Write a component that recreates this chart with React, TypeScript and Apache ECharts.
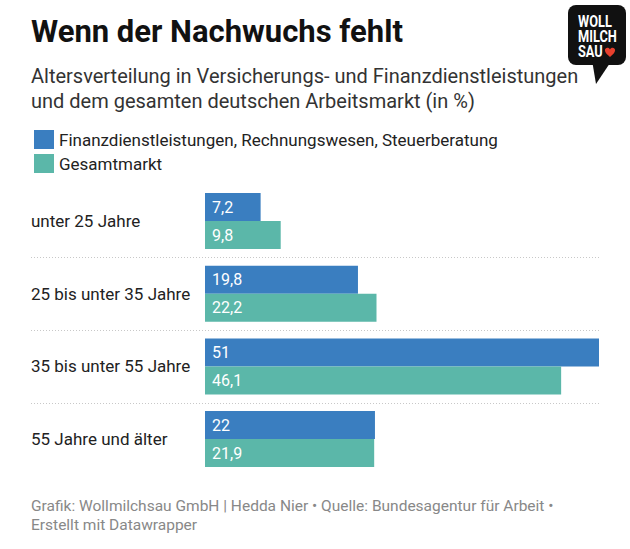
import React, { useEffect, useRef } from "react";
import * as echarts from "echarts";

const categories = ["unter 25 Jahre", "25 bis unter 35 Jahre", "35 bis unter 55 Jahre", "55 Jahre und älter"];
const seriesNames = ["Finanzdienstleistungen, Rechnungswesen, Steuerberatung", "Gesamtmarkt"];
const finanzValues = [7.2, 19.8, 51, 22];
const gesamtValues = [9.8, 22.2, 46.1, 21.9];
const colors = ["#3a7ec0", "#5bb7a9"];

const HEART =
  "M0,-3 C-1,-6 -6,-6 -6,-2 C-6,1 -3,3 0,6 C3,3 6,1 6,-2 C6,-6 1,-6 0,-3 Z";

export default function App() {
  const ref = useRef<HTMLDivElement>(null);
  useEffect(() => {
    if (!ref.current) return;
    echarts.graphic.registerShape("heart", echarts.graphic.extendPath(HEART, {}));
    const chart = echarts.init(ref.current, null, { renderer: "svg" });
    const font = "Roboto, 'Noto Sans', sans-serif";
    const fmt = (p: any) => String(p.value).replace(".", ",");
    const logoFont = "bold 16px Roboto, 'DejaVu Sans'";
    const logo = {
      type: "group",
      children: [
        { type: "rect", shape: { x: 568, y: 5, width: 58, height: 60, r: 8 }, style: { fill: "#111" } },
        { type: "polygon", shape: { points: [[592, 60], [612, 60], [596, 84]] }, style: { fill: "#111" } },
        { type: "text", x: 578, y: 22, scaleX: 0.8, style: { text: "WOLL", fill: "#fff", font: logoFont, verticalAlign: "middle" } },
        { type: "text", x: 578, y: 37, scaleX: 0.8, style: { text: "MILCH", fill: "#fff", font: logoFont, verticalAlign: "middle" } },
        { type: "text", x: 578, y: 52, scaleX: 0.8, style: { text: "SAU", fill: "#fff", font: logoFont, verticalAlign: "middle" } },
        { type: "heart", x: 610, y: 52, scaleX: 0.85, scaleY: 0.85, style: { fill: "#e8402d" } },
      ],
    };
    const baseGraphic: any[] = [
      { type: "text", x: 31, y: 16, style: { text: "Wenn der Nachwuchs fehlt", fill: "#111", font: `bold 31px ${font}` } },
      { type: "text", x: 31, y: 66, style: { text: "Altersverteilung in Versicherungs- und Finanzdienstleistungen", fill: "#333", font: `20px ${font}` } },
      { type: "text", x: 31, y: 91, style: { text: "und dem gesamten deutschen Arbeitsmarkt (in %)", fill: "#333", font: `20px ${font}` } },
      { type: "text", x: 31, y: 498, style: { text: "Grafik: Wollmilchsau GmbH | Hedda Nier • Quelle: Bundesagentur für Arbeit •", fill: "#888", font: `15.5px ${font}` } },
      { type: "text", x: 31, y: 517, style: { text: "Erstellt mit Datawrapper", fill: "#888", font: `15.5px ${font}` } },
      logo,
    ];
    const option: any = {
      animation: false,
      textStyle: { fontFamily: font },
      legend: {
        orient: "vertical",
        left: 29,
        top: 125,
        itemWidth: 20,
        itemHeight: 19,
        itemGap: 5,
        icon: "rect",
        selectedMode: false,
        textStyle: { fontSize: 17, color: "#222" },
        data: seriesNames,
      },
      grid: { left: 205, right: 31, top: 184.7, height: 290.7, containLabel: false },
      xAxis: { type: "value", min: 0, max: 51, show: false },
      yAxis: {
        type: "category",
        data: categories,
        inverse: true,
        axisLine: { show: false },
        axisTick: { show: false },
        splitLine: { show: false },
        axisLabel: { align: "left", margin: 174, fontSize: 17, color: "#222" },
      },
      series: [
        {
          name: seriesNames[0],
          type: "bar",
          data: finanzValues,
          barWidth: 28,
          barGap: "0%",
          itemStyle: { color: colors[0] },
          label: { show: true, position: "insideLeft", distance: 7, color: "#fff", fontSize: 16, formatter: fmt },
        },
        {
          name: seriesNames[1],
          type: "bar",
          data: gesamtValues,
          barWidth: 28,
          barGap: "0%",
          itemStyle: { color: colors[1] },
          label: { show: true, position: "insideLeft", distance: 7, color: "#fff", fontSize: 16, formatter: fmt },
        },
      ],
      graphic: baseGraphic,
    };
    chart.setOption(option);
    const centers = categories.map((c) => chart.convertToPixel({ yAxisIndex: 0 }, c) as number);
    const x1 = 31;
    const x2 = chart.convertToPixel({ xAxisIndex: 0 }, 51) as number;
    const seps: any[] = [];
    for (let i = 0; i < centers.length - 1; i++) {
      const y = Math.round((centers[i] + centers[i + 1]) / 2) + 0.5;
      seps.push({
        type: "line",
        shape: { x1, y1: y, x2, y2: y },
        style: { stroke: "#c8c8c8", lineWidth: 1, lineDash: [1, 2] },
      });
    }
    chart.setOption({ graphic: [...baseGraphic, ...seps] }, { replaceMerge: ["graphic"] });
    return () => chart.dispose();
  }, []);
  return <div ref={ref} style={{ position: "absolute", left: 0, top: 0, width: 630, height: 549 }} />;
}
